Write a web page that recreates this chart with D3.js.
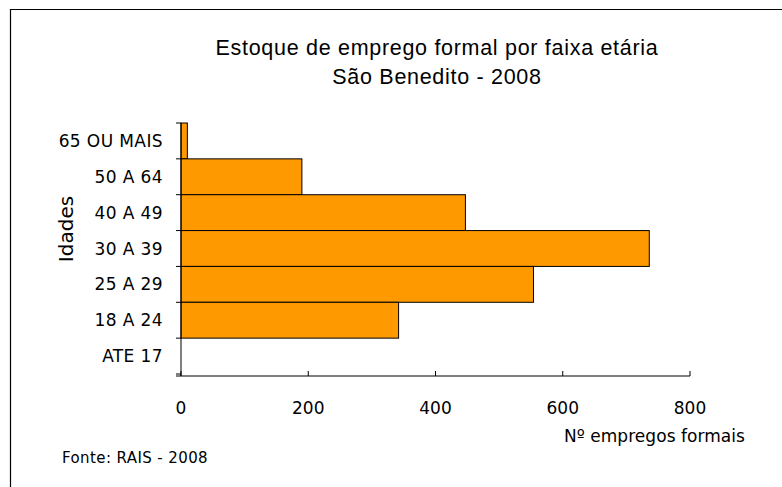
<!DOCTYPE html>
<html><head><meta charset="utf-8">
<script src="https://cdn.jsdelivr.net/npm/d3@7"></script>
<style>body{margin:0;background:#fff}</style>
</head><body>
<script>
const categories = ["65 OU MAIS","50 A 64","40 A 49","30 A 39","25 A 29","18 A 24","ATE 17"];
const values = [10, 190, 447, 736, 554, 342, 0];
const xTicks = [0, 200, 400, 600, 800];
const titleLines = ["Estoque de emprego formal por faixa etária", "São Benedito - 2008"];
const xLabel = "Nº empregos formais";
const yLabel = "Idades";
const source = "Fonte: RAIS - 2008";

const W = 782, H = 487;
const svg = d3.select("body").append("svg").attr("width", W).attr("height", H);
svg.append("rect").attr("width", W).attr("height", H).attr("fill", "#fff");
// frame
svg.append("path").attr("d", `M10.5,${H} V9.5 H${W}`).attr("fill","none").attr("stroke","#000").attr("stroke-width",1.2);

const x = d3.scaleLinear().domain([0, 800]).range([181, 690]);
const y = d3.scaleBand().domain(categories).range([123, 374]).padding(0);

const g = svg.append("g");
g.selectAll("rect.bar").data(categories).join("rect").attr("class","bar")
  .attr("x", x(0)).attr("y", d => y(d))
  .attr("width", (d,i) => x(values[i]) - x(0))
  .attr("height", y.bandwidth())
  .attr("fill", "#FF9900").attr("stroke", "#000").attr("stroke-width", 1)
  .attr("display", (d,i) => values[i] > 0 ? null : "none");

const tickFont = "DejaVu Sans, Verdana, sans-serif";

// y axis
const yAxis = g.append("g").attr("transform", `translate(${x(0)},0)`);
yAxis.append("line").attr("y1", 123).attr("y2", 376).attr("stroke","#000");
const yTickPos = categories.map(c => y(c)).concat([374]);
yAxis.selectAll("line.t").data(yTickPos).join("line").attr("class","t")
  .attr("x1",-5).attr("x2",0).attr("y1",d=>d).attr("y2",d=>d).attr("stroke","#000");
yAxis.selectAll("text").data(categories).join("text")
  .attr("x", -18).attr("y", d => y(d) + y.bandwidth()/2)
  .attr("dy","0.36em").attr("text-anchor","end")
  .attr("font-family",tickFont).attr("font-size",17)
  .attr("letter-spacing","0.4px")
  .text(d => d);

// x axis
const xAxis = g.append("g").attr("transform", `translate(0,376)`);
xAxis.append("line").attr("x1", x(0)-5).attr("x2", x(800)).attr("stroke","#000");
xAxis.selectAll("line.t").data(xTicks).join("line").attr("class","t")
  .attr("x1",d=>x(d)).attr("x2",d=>x(d)).attr("y1",0).attr("y2",-5).attr("stroke","#000");
xAxis.selectAll("text").data(xTicks).join("text")
  .attr("x", d => x(d)).attr("y", 38).attr("text-anchor","middle")
  .attr("font-family",tickFont).attr("font-size",17)
  .text(d => d);

// titles
svg.selectAll("text.title").data(titleLines).join("text").attr("class","title")
  .attr("x", 437).attr("y", (d,i) => 55 + i*29).attr("text-anchor","middle")
  .attr("font-family","Liberation Sans, Arial, sans-serif").attr("font-size",21.5)
  .attr("letter-spacing","0.7px")
  .text(d => d);

svg.append("text").attr("transform","translate(73,229) rotate(-90)")
  .attr("text-anchor","middle").attr("font-family",tickFont)
  .attr("font-size",20).text(yLabel);

svg.append("text").attr("x", 745).attr("y", 442).attr("text-anchor","end")
  .attr("font-family",tickFont).attr("font-size",17)
  .attr("letter-spacing","0.05px").text(xLabel);

svg.append("text").attr("x", 62).attr("y", 463)
  .attr("font-family",tickFont).attr("font-size",15)
  .attr("letter-spacing","0.4px").text(source);
</script>
</body></html>
